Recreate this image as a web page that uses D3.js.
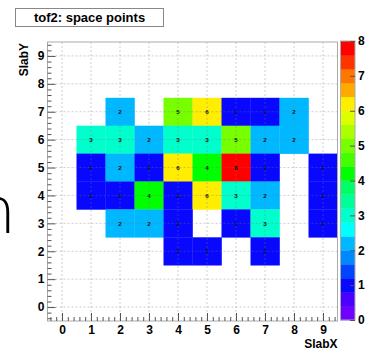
<!DOCTYPE html>
<html>
<head>
<meta charset="utf-8">
<script src="https://cdn.jsdelivr.net/npm/d3@7"></script>
<style>
  body { margin: 0; background: #fff; }
  svg { display: block; font-family: "Liberation Sans", Arial, sans-serif; }
</style>
</head>
<body>
<div class="chart"></div>
<script>
// cell contents of the 2D histogram
const cellX     = [2,4,5,6,7,8, 1,2,3,4,5,6,7,8, 1,2,3,4,5,6,7,9, 1,2,3,4,5,6,7,9, 2,3,4,6,7,9, 4,5,7];
const cellY     = [7,7,7,7,7,7, 6,6,6,6,6,6,6,6, 5,5,5,5,5,5,5,5, 4,4,4,4,4,4,4,4, 3,3,3,3,3,3, 2,2,2];
const cellCount = [2,5,6,1,1,2, 3,3,2,3,3,5,2,2, 1,2,1,6,4,8,1,1, 1,1,4,1,6,3,2,1, 2,2,1,1,3,1, 1,1,1];
const tickLabels = d3.range(0, 10);
const zLabels = d3.range(0, 9);
// ROOT rainbow palette, 20 contour levels, bottom to top
const palette = ["#7000ff","#4a00ff","#0808ff","#0044ff","#0088ff","#00b8ff","#00ffff","#00ffcc","#00ff99","#00ff66",
                 "#00ff00","#44ff00","#77ff00","#aaff00","#ddff00","#ffee00","#ffaa00","#ff7700","#ff3300","#ff0000"];

const width = 370, height = 350;
const svg = d3.select(".chart").append("svg")
    .attr("width", width).attr("height", height);

const x = d3.scaleLinear().domain([-0.5, 9.5]).range([47.5, 337.5]);
const y = d3.scaleLinear().domain([-0.5, 9.5]).range([321, 42]);
const z = d3.scaleLinear().domain([0, 8]).range([320, 41]);
const levels = d3.range(0, 20).map(i => i * 0.4);
const color = v => palette[Math.min(19, Math.floor(v / 0.4 + 1e-6))];

// stray glyph from the page behind
svg.append("text")
    .attr("x", 16).attr("y", 233)
    .attr("text-anchor", "end")
    .attr("font-size", 64)
    .attr("font-weight", 200)
    .attr("font-family", "DejaVu Sans, sans-serif")
    .text("h");

// plot background
svg.append("rect")
    .attr("x", x(-0.5)).attr("y", y(9.5))
    .attr("width", x(9.5) - x(-0.5)).attr("height", y(-0.5) - y(9.5))
    .attr("fill", "#fff");

const cells = d3.range(cellX.length).map(i => ({x: cellX[i], y: cellY[i], v: cellCount[i]}));
const cw = x(1) - x(0), ch = y(0) - y(1);

svg.append("g").selectAll("rect")
    .data(cells)
    .join("rect")
    .attr("x", d => x(d.x - 0.5))
    .attr("y", d => y(d.y + 0.5))
    .attr("width", cw + 0.3)
    .attr("height", ch + 0.3)
    .attr("fill", d => color(d.v));

// dashed grid
const grid = svg.append("g")
    .attr("stroke", "#777")
    .attr("stroke-opacity", 0.6)
    .attr("stroke-width", 0.6)
    .attr("stroke-dasharray", "2,2");
grid.selectAll(".gx").data(tickLabels).join("line")
    .attr("x1", d => x(d)).attr("x2", d => x(d))
    .attr("y1", y(9.5)).attr("y2", y(-0.5));
grid.selectAll(".gy").data(tickLabels).join("line")
    .attr("y1", d => y(d)).attr("y2", d => y(d))
    .attr("x1", x(-0.5)).attr("x2", x(9.5));

svg.append("g").selectAll("text")
    .data(cells)
    .join("text")
    .attr("x", d => x(d.x))
    .attr("y", d => y(d.y) + 2.2)
    .attr("text-anchor", "middle")
    .attr("font-size", 6.2)
    .attr("font-weight", "bold")
    .attr("fill", "#111")
    .text(d => d.v);

// frame
svg.append("rect")
    .attr("x", x(-0.5)).attr("y", y(9.5))
    .attr("width", x(9.5) - x(-0.5)).attr("height", y(-0.5) - y(9.5))
    .attr("fill", "none").attr("stroke", "#aaa");

const minor = d3.range(-2, 48).map(i => Math.round(i * 2) / 10).filter(v => v > -0.5 && v < 9.5 && !Number.isInteger(v));

function styleAxis(g) {
    g.select(".domain").remove();
    g.selectAll("line").attr("stroke", "#555");
    g.selectAll("text").attr("font-size", 12).attr("font-weight", "bold")
        .attr("font-family", "Liberation Sans, Arial, sans-serif").attr("fill", "#000");
}

svg.append("g").attr("transform", `translate(0,${y(-0.5)})`)
    .call(d3.axisBottom(x).tickValues(minor).tickSize(-4).tickFormat(""))
    .call(styleAxis);
svg.append("g").attr("transform", `translate(0,${y(-0.5)})`)
    .call(d3.axisBottom(x).tickValues(tickLabels).tickSize(-8).tickPadding(4).tickFormat(d3.format("d")))
    .call(styleAxis);
svg.append("g").attr("transform", `translate(${x(-0.5)},0)`)
    .call(d3.axisLeft(y).tickValues(minor).tickSize(-4).tickFormat(""))
    .call(styleAxis);
svg.append("g").attr("transform", `translate(${x(-0.5)},0)`)
    .call(d3.axisLeft(y).tickValues(tickLabels).tickSize(-8).tickPadding(3).tickFormat(d3.format("d")))
    .call(styleAxis);

// axis titles
svg.append("text")
    .attr("x", x(9.5)).attr("y", 348)
    .attr("text-anchor", "end")
    .attr("font-size", 12).attr("font-weight", "bold")
    .text("SlabX");
svg.append("text")
    .attr("transform", `translate(28,${y(9.5) + 1}) rotate(-90)`)
    .attr("text-anchor", "end")
    .attr("font-size", 12).attr("font-weight", "bold")
    .text("SlabY");

// colour bar
const zx0 = 340.5, zx1 = 355;
svg.append("g").selectAll("rect")
    .data(levels)
    .join("rect")
    .attr("x", zx0)
    .attr("y", d => z(d + 0.4))
    .attr("width", zx1 - zx0)
    .attr("height", d => z(d) - z(d + 0.4) + 0.3)
    .attr("fill", (d, i) => palette[i]);
svg.append("rect")
    .attr("x", zx0).attr("y", z(8))
    .attr("width", zx1 - zx0).attr("height", z(0) - z(8))
    .attr("fill", "none").attr("stroke", "#aaa");
svg.append("g").attr("transform", `translate(${zx1},0)`)
    .call(d3.axisRight(z).tickValues(zLabels).tickSize(-5).tickPadding(3).tickFormat(d3.format("d")))
    .call(styleAxis);

// title box
svg.append("rect")
    .attr("x", 15.5).attr("y", 8.5)
    .attr("width", 148).attr("height", 18)
    .attr("fill", "#fff").attr("stroke", "#888");
svg.append("text")
    .attr("x", 89.5).attr("y", 22)
    .attr("text-anchor", "middle")
    .attr("font-size", 13).attr("font-weight", "bold")
    .text("tof2: space points");
</script>
</body>
</html>
